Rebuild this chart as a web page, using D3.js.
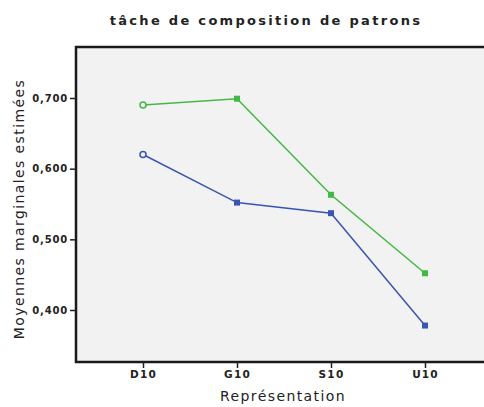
<!DOCTYPE html>
<html>
<head>
<meta charset="utf-8">
<script src="https://cdn.jsdelivr.net/npm/d3@7"></script>
<style>
  body { margin: 0; background: #fff; }
  text { font-family: "DejaVu Sans", Verdana, sans-serif; }
</style>
</head>
<body>
<div id="viz"></div>
<script>
var categories = ["D10", "G10", "S10", "U10"];
var serieVerte = [0.690, 0.699, 0.563, 0.452];
var serieBleue = [0.620, 0.552, 0.537, 0.378];
var yTicks = [0.4, 0.5, 0.6, 0.7];

var w = 484, h = 407;
var frame = { left: 76, top: 47, right: 492, bottom: 362 };

var svg = d3.select("#viz").append("svg")
  .attr("width", w)
  .attr("height", h);

var x = d3.scalePoint().domain(categories).range([143, 425]);
var y = d3.scaleLinear().domain([0.4, 0.7]).range([310, 98]);

// fond du graphique
svg.append("rect")
  .attr("x", frame.left).attr("y", frame.top)
  .attr("width", frame.right - frame.left)
  .attr("height", frame.bottom - frame.top)
  .attr("fill", "#f2f2f2")
  .attr("stroke", "#1a1a1a")
  .attr("stroke-width", 2.5);

var fmt = function(d) { return d3.format(".3f")(d).replace(".", ","); };

var yAxis = d3.axisLeft(y).tickValues(yTicks).tickSize(6).tickPadding(2).tickFormat(fmt);
var gy = svg.append("g")
  .attr("transform", "translate(" + frame.left + ",0)")
  .call(yAxis);
gy.select(".domain").remove();
gy.selectAll("line").attr("stroke", "#222").attr("stroke-width", 1.5);
gy.selectAll("text").attr("font-size", 10).attr("fill", "#222")
  .attr("font-weight", "bold").attr("letter-spacing", 0.8);

var xAxis = d3.axisBottom(x).tickSize(6).tickPadding(3);
var gx = svg.append("g")
  .attr("transform", "translate(0," + frame.bottom + ")")
  .call(xAxis);
gx.select(".domain").remove();
gx.selectAll("line").attr("stroke", "#222").attr("stroke-width", 1.5);
gx.selectAll("text").attr("font-size", 10.5).attr("fill", "#222")
  .attr("font-weight", "bold").attr("letter-spacing", 1.2);

var line = d3.line()
  .x(function(d, i) { return x(categories[i]); })
  .y(function(d) { return y(d); });

function drawSeries(vals, color) {
  svg.append("path")
    .datum(vals)
    .attr("d", line)
    .attr("fill", "none")
    .attr("stroke", color)
    .attr("stroke-width", 1.5);
  vals.forEach(function(v, i) {
    var cx = x(categories[i]), cy = y(v);
    if (i === 0) {
      svg.append("circle")
        .attr("cx", cx).attr("cy", cy).attr("r", 3)
        .attr("fill", "#f2f2f2").attr("stroke", color).attr("stroke-width", 1.5);
    } else {
      svg.append("rect")
        .attr("x", cx - 3).attr("y", cy - 3)
        .attr("width", 6).attr("height", 6)
        .attr("fill", color);
    }
  });
}

drawSeries(serieVerte, "#44b844");
drawSeries(serieBleue, "#3a55b4");

svg.append("text")
  .attr("x", 266).attr("y", 25)
  .attr("text-anchor", "middle")
  .attr("font-size", 13).attr("font-weight", "bold").attr("fill", "#222")
  .attr("letter-spacing", 2.3)
  .text("tâche de composition de patrons");

svg.append("text")
  .attr("x", 283).attr("y", 401)
  .attr("text-anchor", "middle")
  .attr("font-size", 14).attr("fill", "#222")
  .attr("letter-spacing", 1.4)
  .text("Représentation");

svg.append("text")
  .attr("transform", "translate(24,209)rotate(-90)")
  .attr("text-anchor", "middle")
  .attr("font-size", 14).attr("fill", "#222")
  .attr("letter-spacing", 1.4)
  .text("Moyennes marginales estimées");
</script>
</body>
</html>
